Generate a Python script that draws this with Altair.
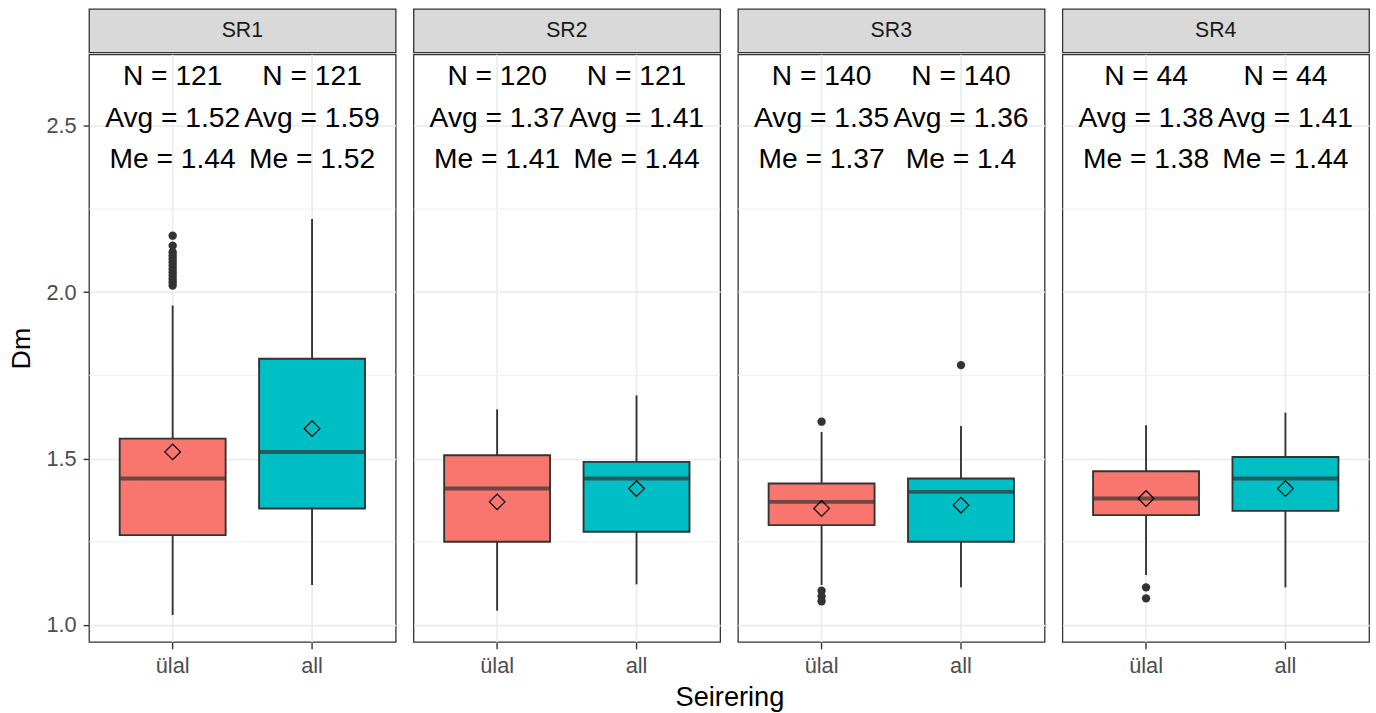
import altair as alt
import pandas as pd

# ---------------- data ----------------
panels = ["SR1", "SR2", "SR3", "SR4"]
groups = ["ülal", "all"]

# one entry per (panel, group), in order SR1-ülal, SR1-all, SR2-ülal, ...
box_panel = ["SR1", "SR1", "SR2", "SR2", "SR3", "SR3", "SR4", "SR4"]
box_group = ["ülal", "all", "ülal", "all", "ülal", "all", "ülal", "all"]
n_obs = [121, 121, 120, 121, 140, 140, 44, 44]
means = [1.52, 1.59, 1.37, 1.41, 1.35, 1.36, 1.38, 1.41]
medians = [1.44, 1.52, 1.41, 1.44, 1.37, 1.40, 1.38, 1.44]
q1 = [1.27, 1.35, 1.25, 1.28, 1.30, 1.25, 1.33, 1.343]
q3 = [1.56, 1.80, 1.51, 1.49, 1.425, 1.44, 1.462, 1.505]
whisk_lo = [1.03, 1.12, 1.043, 1.122, 1.12, 1.113, 1.15, 1.113]
whisk_hi = [1.96, 2.22, 1.648, 1.69, 1.58, 1.598, 1.60, 1.638]

out_panel = ["SR1"] * 13 + ["SR3"] * 5 + ["SR4"] * 2
out_group = ["ülal"] * 13 + ["ülal", "ülal", "ülal", "ülal", "all"] + ["ülal", "ülal"]
out_value = [2.17, 2.14, 2.12, 2.11, 2.10, 2.09, 2.08, 2.07, 2.06, 2.05, 2.04, 2.03, 2.02,
             1.611, 1.103, 1.086, 1.071, 1.781,
             1.113, 1.08]

y_ticks = [1.0, 1.5, 2.0, 2.5]
y_minor = [1.25, 1.75, 2.25]
y_domain = [0.949, 2.715]

fill_colors = ["#F8766D", "#00BFC4"]

# ---------------- tables ----------------
boxes = pd.DataFrame({
    "panel": box_panel, "group": box_group, "n": n_obs, "mean": means,
    "median": medians, "q1": q1, "q3": q3, "lo": whisk_lo, "hi": whisk_hi,
})
boxes["l1"] = ["N = %d" % v for v in n_obs]
boxes["l2"] = ["Avg = %s" % format(v, "g") for v in means]
boxes["l3"] = ["Me = %s" % format(v, "g") for v in medians]
outliers = pd.DataFrame({"panel": out_panel, "group": out_group, "value": out_value})
minor = pd.DataFrame({"v": y_minor})

FONT = "Liberation Sans"
PW, PH = 310, 594
GRID = "#ebebeb"
DARK = "#333333"


def make_panel(p, first):
    b = boxes[boxes.panel == p]
    o = outliers[outliers.panel == p]
    xscale = alt.Scale(domain=groups, paddingInner=0.24, paddingOuter=0.22)
    xaxis = alt.Axis(title=None, labelAngle=0, labelFontSize=22, labelColor="#4d4d4d",
                     labelFont=FONT, tickColor=DARK, tickSize=7, tickWidth=1.4,
                     domain=False, grid=True, gridColor=GRID, gridWidth=1.6,
                     bandPosition=0.5, labelPadding=7)
    if first:
        yaxis = alt.Axis(values=y_ticks, format=".1f", title="Dm", titleFontSize=27,
                         titleFont=FONT, titleFontWeight="normal", titleColor="black",
                         labelFontSize=22, labelColor="#4d4d4d", labelFont=FONT,
                         tickColor=DARK, tickSize=6, tickWidth=1.4, domain=False,
                         grid=True, gridColor=GRID, gridWidth=1.6, titlePadding=11,
                         labelPadding=7)
    else:
        yaxis = alt.Axis(values=y_ticks, title=None, labels=False, ticks=False,
                         domain=False, grid=True, gridColor=GRID, gridWidth=1.6)
    yscale = alt.Scale(domain=y_domain, nice=False, zero=False)
    X = alt.X("group:N", sort=groups, scale=xscale, axis=xaxis)

    minor_l = alt.Chart(minor).mark_rule(color=GRID, strokeWidth=0.8).encode(
        y=alt.Y("v:Q", scale=yscale, axis=yaxis))
    base = alt.Chart(b)
    whisk = base.mark_rule(color=DARK, strokeWidth=1.9).encode(
        x=X, y=alt.Y("lo:Q"), y2="hi:Q")
    box = base.mark_bar(stroke=DARK, strokeWidth=1.9, opacity=1).encode(
        x=X, y=alt.Y("q1:Q"), y2="q3:Q",
        fill=alt.Fill("group:N", scale=alt.Scale(domain=groups, range=fill_colors),
                      legend=None))
    med = base.mark_tick(color=DARK, thickness=4, size=106, orient="horizontal").encode(
        x=X, y=alt.Y("median:Q"))
    mean_pt = base.mark_point(shape="diamond", filled=False, color="black", size=250,
                              strokeWidth=1.2, opacity=1).encode(x=X, y=alt.Y("mean:Q"))
    outl = alt.Chart(o).mark_circle(color=DARK, size=72, opacity=1).encode(
        x=X, y=alt.Y("value:Q"))
    texts = []
    for col, yy in (("l1", 22), ("l2", 64), ("l3", 106)):
        texts.append(base.mark_text(fontSize=28.5, font=FONT, color="black",
                                    baseline="middle", align="center").encode(
            x=X, y=alt.value(yy), text=f"{col}:N"))
    layers = [minor_l, whisk, box, med, mean_pt]
    if len(o):
        layers.append(outl)
    layers += texts
    return alt.layer(*layers).properties(
        width=PW, height=PH,
        view=alt.ViewBackground(fill="white", stroke=DARK, strokeWidth=1.3))


def make_strip(p):
    return alt.Chart(pd.DataFrame({"panel": [p]})).mark_text(
        fontSize=21.5, font=FONT, color="#1a1a1a", baseline="middle", align="center"
    ).encode(x=alt.value(PW / 2), y=alt.value(22), text="panel:N").properties(
        width=PW, height=44,
        view=alt.ViewBackground(fill="#d9d9d9", stroke=DARK, strokeWidth=1.3))


charts = [make_strip(p) for p in panels] + [make_panel(p, i == 0) for i, p in enumerate(panels)]

chart = alt.concat(*charts, columns=4, spacing={"row": 0, "column": 14}).properties(
    title=alt.TitleParams("Seirering", orient="bottom", anchor="middle", fontSize=27.5,
                          font=FONT, fontWeight="normal", color="black", offset=7, dx=42),
    padding={"left": 6, "top": 4, "right": 5, "bottom": 5},
    background="white",
).configure_view(stroke=DARK).configure_concat(spacing=14)

chart.save("out.html", embed_options={"renderer": "svg", "actions": False})
